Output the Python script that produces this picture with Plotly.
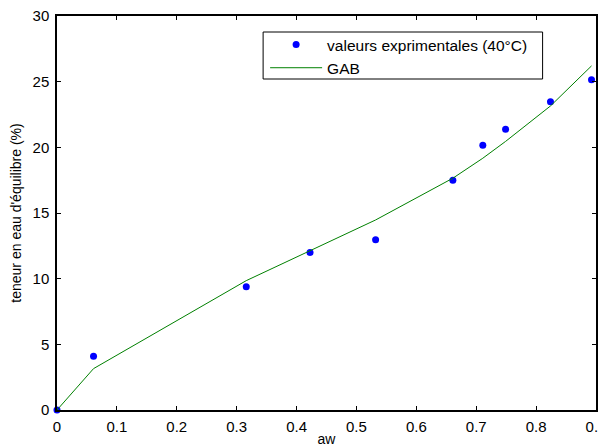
import plotly.graph_objects as go

aw_exp = [0.0, 0.061, 0.316, 0.4225, 0.532, 0.661, 0.711, 0.749, 0.824, 0.8925]
teneur_exp = [0.0, 4.1, 9.38, 12.0, 12.97, 17.5, 20.16, 21.38, 23.48, 25.15]

aw_gab = [0.0, 0.061, 0.316, 0.4225, 0.532, 0.661, 0.711, 0.749, 0.824, 0.8925]
teneur_gab = [0.0, 3.15, 9.85, 12.1, 14.47, 17.65, 19.17, 20.45, 23.15, 26.2]

x_ticks = [0, 0.1, 0.2, 0.3, 0.4, 0.5, 0.6, 0.7, 0.8, 0.9]
x_tick_labels = ["0", "0.1", "0.2", "0.3", "0.4", "0.5", "0.6", "0.7", "0.8", "0.9"]
y_ticks = [0, 5, 10, 15, 20, 25, 30]
y_tick_labels = ["0", "5", "10", "15", "20", "25", "30"]

FONT = "Liberation Sans, Arial, sans-serif"

# page has an 8px body margin; figure size/margins chosen so plot area sits at
# x 56.5..596.5 and y 16..410 in the window
OFF = 8
W, H = 598, 439
L, R, T, B = 48.5, 9.5, 8, 37
PW, PH = W - L - R, H - T - B

fig = go.Figure()
fig.add_trace(go.Scatter(
    x=aw_exp, y=teneur_exp, mode="markers",
    name="valeurs exprimentales (40°C)",
    marker=dict(color="#0000ff", size=7),
    cliponaxis=False,
))
fig.add_trace(go.Scatter(
    x=aw_gab, y=teneur_gab, mode="lines",
    name="GAB",
    line=dict(color="#008000", width=1),
    cliponaxis=False,
))

axis_common = dict(
    showgrid=False, zeroline=False, automargin=False,
    showline=True, linecolor="black", linewidth=1.5,
    mirror="ticks", ticks="inside", ticklen=4, tickcolor="black",
    tickfont=dict(family=FONT, size=15, color="black"),
    ticklabeloverflow="allow",
)

# legend frame in window pixels, converted to paper coords
lx0, lx1, ly0, ly1 = 263, 543, 32, 79
def px_x(px):
    return (px - OFF - L) / PW
def px_y(py):
    return (OFF + H - B - py) / PH

fig.add_shape(
    type="rect", xref="paper", yref="paper",
    x0=px_x(lx0), x1=px_x(lx1), y0=px_y(ly1), y1=px_y(ly0),
    line=dict(color="black", width=1), fillcolor="white", layer="below",
)

fig.update_layout(
    width=W, height=H, autosize=False,
    margin=dict(l=L, r=R, t=T, b=B, pad=0),
    paper_bgcolor="white", plot_bgcolor="white",
    font=dict(family=FONT, size=14, color="black"),
    xaxis=dict(
        range=[0, 0.9], tickvals=x_ticks, ticktext=x_tick_labels,
        title=dict(text="aw", font=dict(family=FONT, size=14), standoff=3),
        ticklabelstandoff=2,
        **axis_common,
    ),
    yaxis=dict(
        range=[0, 30], tickvals=y_ticks, ticktext=y_tick_labels,
        title=dict(text="teneur en eau d'équilibre (%)", font=dict(family=FONT, size=14), standoff=16),
        ticklabelstandoff=3,
        **axis_common,
    ),
    showlegend=True,
    legend=dict(
        x=px_x(lx0 + 2), y=px_y(ly0 - 4), xanchor="left", yanchor="top",
        bgcolor="rgba(0,0,0,0)", borderwidth=0,
        font=dict(family=FONT, size=15.5, color="black"),
        tracegroupgap=0, itemwidth=52,
    ),
)

fig.write_html("out.html")
